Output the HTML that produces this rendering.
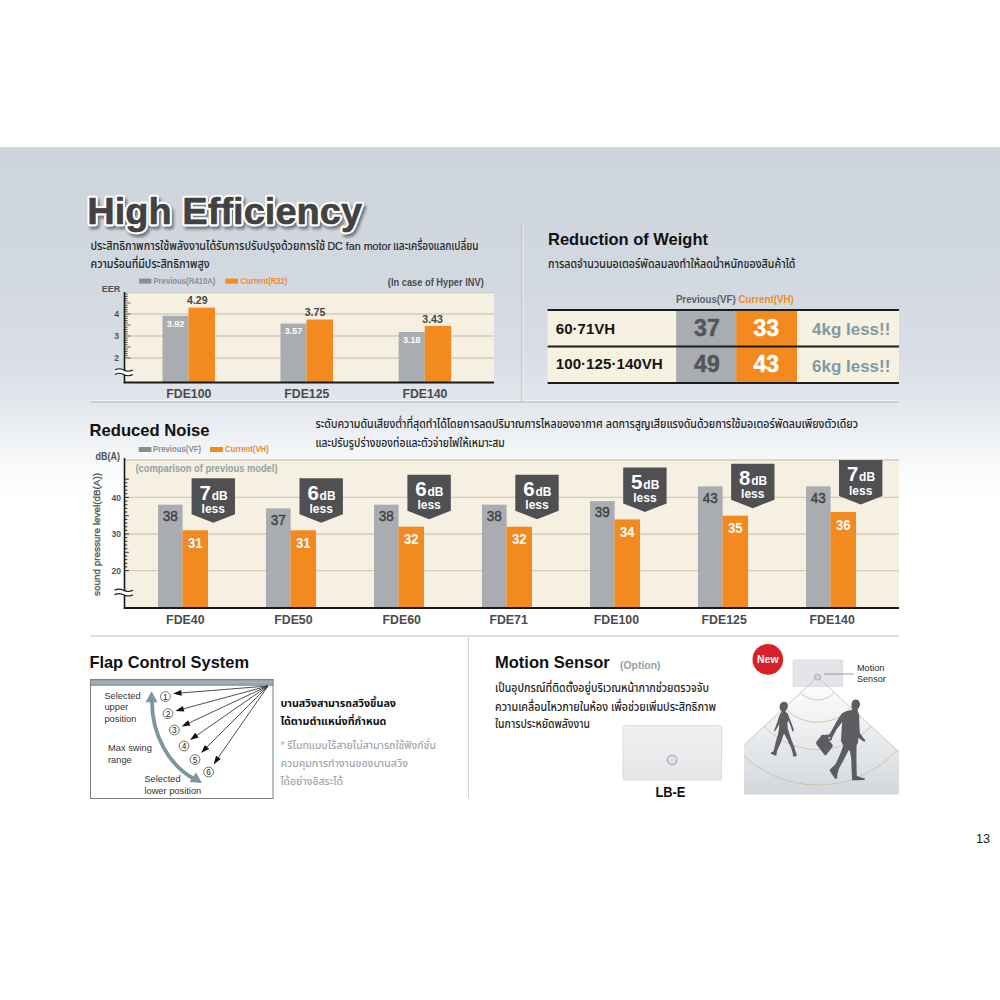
<!DOCTYPE html>
<html lang="th">
<head>
<meta charset="utf-8">
<title>High Efficiency</title>
<style>
html,body{margin:0;padding:0;background:#fff;}
body{width:1000px;height:1000px;overflow:hidden;position:relative;}
svg{display:block;position:absolute;left:0;top:0;}
text{font-family:"Liberation Sans","Noto Sans Thai",sans-serif;}
.b{font-weight:700;}
.th{font-family:"Liberation Sans","Noto Sans Thai",sans-serif;}
</style>
</head>
<body>
<svg width="1000" height="1000" viewBox="0 0 1000 1000">
<defs>
  <linearGradient id="bgg" x1="0" y1="0" x2="0" y2="1">
    <stop offset="0" stop-color="#cdd4dc"/>
    <stop offset="0.35" stop-color="#d2d8e0"/>
    <stop offset="0.6" stop-color="#d9dee6"/>
    <stop offset="0.75" stop-color="#e5e9ee"/>
    <stop offset="0.87" stop-color="#f4f6f8"/>
    <stop offset="0.95" stop-color="#fcfdfd"/>
    <stop offset="1" stop-color="#ffffff"/>
  </linearGradient>
  <filter id="tsh" x="-5%" y="-20%" width="115%" height="150%">
    <feGaussianBlur in="SourceAlpha" stdDeviation="1.6"/>
    <feOffset dx="2" dy="2.5" result="o"/>
    <feComponentTransfer><feFuncA type="linear" slope="0.45"/></feComponentTransfer>
    <feMerge><feMergeNode/><feMergeNode in="SourceGraphic"/></feMerge>
  </filter>
</defs>

<!-- background band -->
<rect x="0" y="147" width="1000" height="353" fill="url(#bgg)"/>

<!-- ===== HIGH EFFICIENCY ===== -->
<g id="he">
  <text x="87.2" y="224.3" font-size="36.8" class="b" fill="#fff" stroke="#fff" stroke-width="4.6" stroke-linejoin="round" filter="url(#tsh)" textLength="275" lengthAdjust="spacingAndGlyphs">High Efficiency</text>
  <text x="87.2" y="224.3" font-size="36.8" class="b" fill="#424143" stroke="#424143" stroke-width="0.6" stroke-linejoin="round" textLength="275" lengthAdjust="spacingAndGlyphs">High Efficiency</text>
  <text x="90.5" y="249.6" font-size="12.2" font-weight="500" fill="#1e1e1e" textLength="234.5" lengthAdjust="spacingAndGlyphs">ประสิทธิภาพการใช้พลังงานได้รับการปรับปรุงด้วยการใช้</text>
  <text x="327.4" y="249.6" font-size="10.6" fill="#1e1e1e" stroke="#1e1e1e" stroke-width="0.15" textLength="63.6" lengthAdjust="spacingAndGlyphs">DC fan motor</text>
  <text x="393" y="249.6" font-size="12.2" font-weight="500" fill="#1e1e1e" textLength="85.6" lengthAdjust="spacingAndGlyphs">และเครื่องแลกเปลี่ยน</text>
  <text x="90.5" y="268.0" font-size="12.2" font-weight="500" fill="#1e1e1e" textLength="119" lengthAdjust="spacingAndGlyphs">ความร้อนที่มีประสิทธิภาพสูง</text>

  <!-- legend -->
  <rect x="139" y="278.6" width="12.4" height="5" fill="#8c8d8f"/>
  <text x="153.4" y="283.9" font-size="8.3" class="b" fill="#8c8d8f" textLength="62" lengthAdjust="spacingAndGlyphs">Previous(R410A)</text>
  <rect x="225.4" y="278.6" width="12.6" height="5" fill="#f28a20"/>
  <text x="240.4" y="283.9" font-size="8.3" class="b" fill="#f28a20" textLength="47" lengthAdjust="spacingAndGlyphs">Current(R32)</text>
  <text x="387.8" y="285.6" font-size="10" class="b" fill="#4a4d52" textLength="96" lengthAdjust="spacingAndGlyphs">(In case of Hyper INV)</text>
  <text x="101.8" y="292" font-size="9.5" class="b" fill="#505255" textLength="18.5" lengthAdjust="spacingAndGlyphs">EER</text>

  <!-- chart area -->
  <rect x="125" y="292" width="369" height="90.5" fill="#f5f0e1"/>
  <line x1="125" y1="292.6" x2="494" y2="292.6" stroke="#cfcdc4" stroke-width="1.2"/>
  <g stroke="#d3ccb6" stroke-width="1.3">
    <line x1="125" y1="314" x2="494" y2="314"/>
    <line x1="125" y1="336" x2="494" y2="336"/>
    <line x1="125" y1="358" x2="494" y2="358"/>
  </g>
  <!-- bars -->
  <g>
    <rect x="162.5" y="315.8" width="26" height="66.7" fill="#a9acb0"/>
    <rect x="188.5" y="307.6" width="26.5" height="74.9" fill="#f28a20"/>
    <rect x="280.5" y="323.5" width="26" height="59" fill="#a9acb0"/>
    <rect x="306.5" y="319.5" width="26.5" height="63" fill="#f28a20"/>
    <rect x="398.7" y="332" width="26" height="50.5" fill="#a9acb0"/>
    <rect x="424.7" y="326" width="26.5" height="56.5" fill="#f28a20"/>
  </g>
  <g font-size="9" class="b" fill="#fff" text-anchor="middle">
    <text x="175.5" y="327">3.92</text>
    <text x="293.5" y="334.2">3.57</text>
    <text x="411.7" y="343.2">3.18</text>
  </g>
  <g font-size="10.6" class="b" fill="#444548" text-anchor="middle">
    <text x="197.3" y="303.6" textLength="20.6" lengthAdjust="spacingAndGlyphs">4.29</text>
    <text x="315" y="316.4" textLength="20.6" lengthAdjust="spacingAndGlyphs">3.75</text>
    <text x="432.6" y="322.8" textLength="20.6" lengthAdjust="spacingAndGlyphs">3.43</text>
  </g>
  <!-- axes -->
  <line x1="124.5" y1="292" x2="124.5" y2="383.2" stroke="#1a1a1a" stroke-width="1.6"/>
  <line x1="123.7" y1="382.5" x2="494" y2="382.5" stroke="#1a1a1a" stroke-width="1.8"/>
  <g stroke="#1a1a1a" stroke-width="0.9" id="ticks1"><line x1="125" y1="358.0" x2="130.6" y2="358.0" stroke="#7d7762" stroke-width="1.1"/><line x1="125" y1="355.8" x2="127.6" y2="355.8" stroke-width="0.8"/><line x1="125" y1="353.6" x2="127.6" y2="353.6" stroke-width="0.8"/><line x1="125" y1="351.4" x2="127.6" y2="351.4" stroke-width="0.8"/><line x1="125" y1="349.2" x2="127.6" y2="349.2" stroke-width="0.8"/><line x1="125" y1="347.0" x2="130.6" y2="347.0" stroke="#7d7762" stroke-width="1.1"/><line x1="125" y1="344.8" x2="127.6" y2="344.8" stroke-width="0.8"/><line x1="125" y1="342.6" x2="127.6" y2="342.6" stroke-width="0.8"/><line x1="125" y1="340.4" x2="127.6" y2="340.4" stroke-width="0.8"/><line x1="125" y1="338.2" x2="127.6" y2="338.2" stroke-width="0.8"/><line x1="125" y1="336.0" x2="130.6" y2="336.0" stroke="#7d7762" stroke-width="1.1"/><line x1="125" y1="333.8" x2="127.6" y2="333.8" stroke-width="0.8"/><line x1="125" y1="331.6" x2="127.6" y2="331.6" stroke-width="0.8"/><line x1="125" y1="329.4" x2="127.6" y2="329.4" stroke-width="0.8"/><line x1="125" y1="327.2" x2="127.6" y2="327.2" stroke-width="0.8"/><line x1="125" y1="325.0" x2="130.6" y2="325.0" stroke="#7d7762" stroke-width="1.1"/><line x1="125" y1="322.8" x2="127.6" y2="322.8" stroke-width="0.8"/><line x1="125" y1="320.6" x2="127.6" y2="320.6" stroke-width="0.8"/><line x1="125" y1="318.4" x2="127.6" y2="318.4" stroke-width="0.8"/><line x1="125" y1="316.2" x2="127.6" y2="316.2" stroke-width="0.8"/><line x1="125" y1="314.0" x2="130.6" y2="314.0" stroke="#7d7762" stroke-width="1.1"/><line x1="125" y1="311.8" x2="127.6" y2="311.8" stroke-width="0.8"/><line x1="125" y1="309.6" x2="127.6" y2="309.6" stroke-width="0.8"/><line x1="125" y1="307.4" x2="127.6" y2="307.4" stroke-width="0.8"/><line x1="125" y1="305.2" x2="127.6" y2="305.2" stroke-width="0.8"/><line x1="125" y1="303.0" x2="130.6" y2="303.0" stroke="#7d7762" stroke-width="1.1"/><line x1="125" y1="300.8" x2="127.6" y2="300.8" stroke-width="0.8"/><line x1="125" y1="298.6" x2="127.6" y2="298.6" stroke-width="0.8"/><line x1="125" y1="296.4" x2="127.6" y2="296.4" stroke-width="0.8"/><line x1="125" y1="294.2" x2="127.6" y2="294.2" stroke-width="0.8"/></g>
  <!-- break -->
  <path d="M115 372.2 q4 -2.4 8.5 0 t9.5 0" fill="none" stroke="#fff" stroke-width="4"/>
  <path d="M115 370 q4 -2.4 8.5 0 t9.5 0 M115 374.5 q4 -2.4 8.5 0 t9.5 0" fill="none" stroke="#1a1a1a" stroke-width="1.1"/>
  <g font-size="8.6" class="b" fill="#4f5154" text-anchor="end">
    <text x="119" y="317">4</text>
    <text x="119" y="339">3</text>
    <text x="119" y="361">2</text>
  </g>
  <g font-size="13" class="b" fill="#4a4b4e" text-anchor="middle">
    <text x="188.8" y="398.3" textLength="45" lengthAdjust="spacingAndGlyphs">FDE100</text>
    <text x="306.8" y="398.3" textLength="45" lengthAdjust="spacingAndGlyphs">FDE125</text>
    <text x="424.9" y="398.3" textLength="45" lengthAdjust="spacingAndGlyphs">FDE140</text>
  </g>
</g>

<!-- separators -->
<line x1="522.9" y1="224" x2="522.9" y2="401" stroke="#f4f6f9" stroke-width="1" opacity="0.8"/>
<line x1="90" y1="400.6" x2="898" y2="400.6" stroke="#f4f6f9" stroke-width="1" opacity="0.8"/>
<line x1="521.7" y1="224" x2="521.7" y2="402" stroke="#bfc5cc" stroke-width="1.1"/>
<line x1="90" y1="402" x2="898" y2="402" stroke="#c2c7cd" stroke-width="1.3"/>

<!-- ===== REDUCTION OF WEIGHT ===== -->
<g id="rw">
  <text x="548" y="245" font-size="16.5" class="b" fill="#111" textLength="160" lengthAdjust="spacingAndGlyphs">Reduction of Weight</text>
  <text x="548" y="268.0" font-size="11.6" font-weight="500" fill="#1e1e1e" textLength="247.5" lengthAdjust="spacingAndGlyphs">การลดจำนวนมอเตอร์พัดลมลงทำให้ลดน้ำหนักของสินค้าได้</text>
  <text x="675.9" y="303.4" font-size="11" class="b" fill="#5d6166" textLength="59.8" lengthAdjust="spacingAndGlyphs">Previous(VF)</text>
  <text x="738.5" y="303.4" font-size="11" class="b" fill="#f08a28" textLength="55.3" lengthAdjust="spacingAndGlyphs">Current(VH)</text>
  <rect x="547.6" y="310" width="351.4" height="73" fill="#f6f1e0"/>
  <rect x="676.2" y="310" width="60" height="73" fill="#a9acb0"/>
  <rect x="736.2" y="310" width="60.8" height="73" fill="#f28a20"/>
  <g stroke="#1c1c1c" stroke-width="2.2">
    <line x1="547.6" y1="310" x2="899" y2="310"/>
    <line x1="547.6" y1="346.5" x2="899" y2="346.5"/>
    <line x1="547.6" y1="383" x2="899" y2="383"/>
  </g>
  <g font-size="14.5" class="b" fill="#151515">
    <text x="555.8" y="334.1" textLength="59.4" lengthAdjust="spacingAndGlyphs">60·71VH</text>
    <text x="555.8" y="369.2" textLength="107" lengthAdjust="spacingAndGlyphs">100·125·140VH</text>
  </g>
  <g font-size="23" class="b" text-anchor="middle">
    <text x="706.9" y="336" fill="#545558" stroke="#545558" stroke-width="0.5">37</text>
    <text x="706.9" y="372.2" fill="#545558" stroke="#545558" stroke-width="0.5">49</text>
    <text x="766.3" y="336" fill="#fff" stroke="#fff" stroke-width="0.4">33</text>
    <text x="766.3" y="372.2" fill="#fff" stroke="#fff" stroke-width="0.4">43</text>
  </g>
  <g font-size="17" class="b" fill="#7f9aa6">
    <text x="812.1" y="334.9" textLength="78.2" lengthAdjust="spacingAndGlyphs">4kg less!!</text>
    <text x="812.1" y="371.7" textLength="78.2" lengthAdjust="spacingAndGlyphs">6kg less!!</text>
  </g>
</g>

<!-- ===== REDUCED NOISE ===== -->
<g id="rn">
  <text x="89.5" y="435.8" font-size="16.5" class="b" fill="#111" textLength="120" lengthAdjust="spacingAndGlyphs">Reduced Noise</text>
  <text x="315.4" y="428.0" font-size="12.2" font-weight="500" fill="#1e1e1e" textLength="542.6" lengthAdjust="spacingAndGlyphs">ระดับความดันเสียงต่ำที่สุดทำได้โดยการลดปริมาณการไหลของอากาศ ลดการสูญเสียแรงดันด้วยการใช้มอเตอร์พัดลมเพียงตัวเดียว</text>
  <text x="315.4" y="446.5" font-size="12.2" font-weight="500" fill="#1e1e1e" textLength="189.4" lengthAdjust="spacingAndGlyphs">และปรับรูปร่างของท่อและตัวจ่ายไฟให้เหมาะสม</text>
  <rect x="138.8" y="447" width="12.6" height="5" fill="#8c8d8f"/>
  <text x="153" y="451.9" font-size="8.6" class="b" fill="#8c8d8f" textLength="48" lengthAdjust="spacingAndGlyphs">Previous(VF)</text>
  <rect x="210" y="447" width="13" height="5" fill="#f28a20"/>
  <text x="225" y="451.9" font-size="8.6" class="b" fill="#f28a20" textLength="43.7" lengthAdjust="spacingAndGlyphs">Current(VH)</text>
  <text x="95.6" y="460.3" font-size="10" class="b" fill="#505255" textLength="24.4" lengthAdjust="spacingAndGlyphs">dB(A)</text>

  <rect x="125" y="459.5" width="774" height="148.5" fill="#f5f0e1"/>
  <g stroke="#d3ccb6" stroke-width="1.3">
    <line x1="125" y1="460" x2="899" y2="460"/>
    <line x1="125" y1="497.4" x2="899" y2="497.4"/>
    <line x1="125" y1="534" x2="899" y2="534"/>
    <line x1="125" y1="570.6" x2="899" y2="570.6"/>
  </g>
  <text x="135.5" y="471.5" font-size="10" class="b" fill="#8fa3a7" textLength="142" lengthAdjust="spacingAndGlyphs">(comparison of previous model)</text>
  <g id="nbars"><rect x="158" y="504.7" width="24.6" height="103.3" fill="#a9acb0"/>
<rect x="182.5" y="530.3" width="25.5" height="77.7" fill="#f28a20"/>
<text x="170.3" y="521.0" font-size="14" fill="#434447" stroke="#434447" stroke-width="0.45" text-anchor="middle" textLength="15" lengthAdjust="spacingAndGlyphs">38</text>
<text x="195.3" y="547.8" font-size="14" class="b" fill="#fff" text-anchor="middle" textLength="14.5" lengthAdjust="spacingAndGlyphs">31</text>
<path d="M191.6 478.3H235.0V514.3L213.3 522.8L191.6 514.3Z" fill="#505052"/>
<text x="199.5" y="499.6" font-size="20.5" class="b" fill="#fff">7<tspan font-size="12" dx="0.8">dB</tspan></text>
<text x="213.3" y="513.0" font-size="12" class="b" fill="#fff" text-anchor="middle">less</text>
<text x="185.3" y="624.1" font-size="13" class="b" fill="#4a4b4e" text-anchor="middle" textLength="38.4" lengthAdjust="spacingAndGlyphs">FDE40</text>
<rect x="266" y="508.4" width="24.6" height="99.6" fill="#a9acb0"/>
<rect x="290.5" y="530.3" width="25.5" height="77.7" fill="#f28a20"/>
<text x="278.3" y="524.7" font-size="14" fill="#434447" stroke="#434447" stroke-width="0.45" text-anchor="middle" textLength="15" lengthAdjust="spacingAndGlyphs">37</text>
<text x="303.3" y="547.8" font-size="14" class="b" fill="#fff" text-anchor="middle" textLength="14.5" lengthAdjust="spacingAndGlyphs">31</text>
<path d="M299.5 478.3H342.9V514.3L321.2 522.8L299.5 514.3Z" fill="#505052"/>
<text x="307.4" y="499.6" font-size="20.5" class="b" fill="#fff">6<tspan font-size="12" dx="0.8">dB</tspan></text>
<text x="321.2" y="513.0" font-size="12" class="b" fill="#fff" text-anchor="middle">less</text>
<text x="293.4" y="624.1" font-size="13" class="b" fill="#4a4b4e" text-anchor="middle" textLength="38.4" lengthAdjust="spacingAndGlyphs">FDE50</text>
<rect x="374" y="504.7" width="24.6" height="103.3" fill="#a9acb0"/>
<rect x="398.5" y="526.7" width="25.5" height="81.3" fill="#f28a20"/>
<text x="386.3" y="521.0" font-size="14" fill="#434447" stroke="#434447" stroke-width="0.45" text-anchor="middle" textLength="15" lengthAdjust="spacingAndGlyphs">38</text>
<text x="411.3" y="544.2" font-size="14" class="b" fill="#fff" text-anchor="middle" textLength="14.5" lengthAdjust="spacingAndGlyphs">32</text>
<path d="M407.4 474.7H450.8V510.7L429.1 519.2L407.4 510.7Z" fill="#505052"/>
<text x="415.3" y="496.0" font-size="20.5" class="b" fill="#fff">6<tspan font-size="12" dx="0.8">dB</tspan></text>
<text x="429.1" y="509.4" font-size="12" class="b" fill="#fff" text-anchor="middle">less</text>
<text x="401.7" y="624.1" font-size="13" class="b" fill="#4a4b4e" text-anchor="middle" textLength="38.4" lengthAdjust="spacingAndGlyphs">FDE60</text>
<rect x="482" y="504.7" width="24.6" height="103.3" fill="#a9acb0"/>
<rect x="506.5" y="526.7" width="25.5" height="81.3" fill="#f28a20"/>
<text x="494.3" y="521.0" font-size="14" fill="#434447" stroke="#434447" stroke-width="0.45" text-anchor="middle" textLength="15" lengthAdjust="spacingAndGlyphs">38</text>
<text x="519.3" y="544.2" font-size="14" class="b" fill="#fff" text-anchor="middle" textLength="14.5" lengthAdjust="spacingAndGlyphs">32</text>
<path d="M515.3 474.7H558.7V510.7L537.0 519.2L515.3 510.7Z" fill="#505052"/>
<text x="523.2" y="496.0" font-size="20.5" class="b" fill="#fff">6<tspan font-size="12" dx="0.8">dB</tspan></text>
<text x="537.0" y="509.4" font-size="12" class="b" fill="#fff" text-anchor="middle">less</text>
<text x="508.6" y="624.1" font-size="13" class="b" fill="#4a4b4e" text-anchor="middle" textLength="38.4" lengthAdjust="spacingAndGlyphs">FDE71</text>
<rect x="590" y="501.1" width="24.6" height="106.9" fill="#a9acb0"/>
<rect x="614.5" y="519.4" width="25.5" height="88.6" fill="#f28a20"/>
<text x="602.3" y="517.4" font-size="14" fill="#434447" stroke="#434447" stroke-width="0.45" text-anchor="middle" textLength="15" lengthAdjust="spacingAndGlyphs">39</text>
<text x="627.3" y="536.9" font-size="14" class="b" fill="#fff" text-anchor="middle" textLength="14.5" lengthAdjust="spacingAndGlyphs">34</text>
<path d="M623.2 467.4H666.6V503.4L644.9 511.9L623.2 503.4Z" fill="#505052"/>
<text x="631.1" y="488.7" font-size="20.5" class="b" fill="#fff">5<tspan font-size="12" dx="0.8">dB</tspan></text>
<text x="644.9" y="502.1" font-size="12" class="b" fill="#fff" text-anchor="middle">less</text>
<text x="616.4" y="624.1" font-size="13" class="b" fill="#4a4b4e" text-anchor="middle" textLength="45.2" lengthAdjust="spacingAndGlyphs">FDE100</text>
<rect x="698" y="486.4" width="24.6" height="121.6" fill="#a9acb0"/>
<rect x="722.5" y="515.7" width="25.5" height="92.3" fill="#f28a20"/>
<text x="710.3" y="502.7" font-size="14" fill="#434447" stroke="#434447" stroke-width="0.45" text-anchor="middle" textLength="15" lengthAdjust="spacingAndGlyphs">43</text>
<text x="735.3" y="533.2" font-size="14" class="b" fill="#fff" text-anchor="middle" textLength="14.5" lengthAdjust="spacingAndGlyphs">35</text>
<path d="M731.1 463.7H774.5V499.7L752.8 508.2L731.1 499.7Z" fill="#505052"/>
<text x="739.0" y="485.0" font-size="20.5" class="b" fill="#fff">8<tspan font-size="12" dx="0.8">dB</tspan></text>
<text x="752.8" y="498.4" font-size="12" class="b" fill="#fff" text-anchor="middle">less</text>
<text x="724.2" y="624.1" font-size="13" class="b" fill="#4a4b4e" text-anchor="middle" textLength="45.2" lengthAdjust="spacingAndGlyphs">FDE125</text>
<rect x="806" y="486.4" width="24.6" height="121.6" fill="#a9acb0"/>
<rect x="830.5" y="512.0" width="25.5" height="96.0" fill="#f28a20"/>
<text x="818.3" y="502.7" font-size="14" fill="#434447" stroke="#434447" stroke-width="0.45" text-anchor="middle" textLength="15" lengthAdjust="spacingAndGlyphs">43</text>
<text x="843.3" y="529.5" font-size="14" class="b" fill="#fff" text-anchor="middle" textLength="14.5" lengthAdjust="spacingAndGlyphs">36</text>
<path d="M839.0 460.0H882.4V496.0L860.7 504.5L839.0 496.0Z" fill="#505052"/>
<text x="846.9" y="481.3" font-size="20.5" class="b" fill="#fff">7<tspan font-size="12" dx="0.8">dB</tspan></text>
<text x="860.7" y="494.7" font-size="12" class="b" fill="#fff" text-anchor="middle">less</text>
<text x="832.2" y="624.1" font-size="13" class="b" fill="#4a4b4e" text-anchor="middle" textLength="45.2" lengthAdjust="spacingAndGlyphs">FDE140</text></g>
  <line x1="124.5" y1="458" x2="124.5" y2="608.8" stroke="#1a1a1a" stroke-width="1.6"/>
  <line x1="123.7" y1="608" x2="899" y2="608" stroke="#1a1a1a" stroke-width="1.8"/>
  <g stroke="#1a1a1a" stroke-width="0.9" id="ticks2"><line x1="125" y1="570.6" x2="128.8" y2="570.6"/><line x1="125" y1="566.9" x2="127.4" y2="566.9"/><line x1="125" y1="563.3" x2="127.4" y2="563.3"/><line x1="125" y1="559.6" x2="127.4" y2="559.6"/><line x1="125" y1="556.0" x2="127.4" y2="556.0"/><line x1="125" y1="552.3" x2="128.8" y2="552.3"/><line x1="125" y1="548.6" x2="127.4" y2="548.6"/><line x1="125" y1="545.0" x2="127.4" y2="545.0"/><line x1="125" y1="541.3" x2="127.4" y2="541.3"/><line x1="125" y1="537.7" x2="127.4" y2="537.7"/><line x1="125" y1="534.0" x2="128.8" y2="534.0"/><line x1="125" y1="530.3" x2="127.4" y2="530.3"/><line x1="125" y1="526.7" x2="127.4" y2="526.7"/><line x1="125" y1="523.0" x2="127.4" y2="523.0"/><line x1="125" y1="519.4" x2="127.4" y2="519.4"/><line x1="125" y1="515.7" x2="128.8" y2="515.7"/><line x1="125" y1="512.0" x2="127.4" y2="512.0"/><line x1="125" y1="508.4" x2="127.4" y2="508.4"/><line x1="125" y1="504.7" x2="127.4" y2="504.7"/><line x1="125" y1="501.1" x2="127.4" y2="501.1"/><line x1="125" y1="497.4" x2="128.8" y2="497.4"/><line x1="125" y1="493.7" x2="127.4" y2="493.7"/><line x1="125" y1="490.1" x2="127.4" y2="490.1"/><line x1="125" y1="486.4" x2="127.4" y2="486.4"/><line x1="125" y1="482.8" x2="127.4" y2="482.8"/><line x1="125" y1="479.1" x2="128.8" y2="479.1"/></g>
  <path d="M114.5 592.5 q4.2 -2.4 8.8 0 t9.8 0" fill="none" stroke="#fff" stroke-width="4"/>
  <path d="M114.5 590.3 q4.2 -2.4 8.8 0 t9.8 0 M114.5 594.8 q4.2 -2.4 8.8 0 t9.8 0" fill="none" stroke="#1a1a1a" stroke-width="1.1"/>
  <g font-size="8.6" class="b" fill="#4f5154" text-anchor="end">
    <text x="121" y="500.5">40</text>
    <text x="121" y="537.1">30</text>
    <text x="121" y="573.7">20</text>
  </g>
  <text transform="translate(100.2,596) rotate(-90)" font-size="9.6" fill="#505255" stroke="#505255" stroke-width="0.3" textLength="123" lengthAdjust="spacingAndGlyphs">sound pressure level(dB(A))</text>
</g>

<!-- separator 2 -->
<line x1="90" y1="636" x2="899" y2="636" stroke="#d3d5d7" stroke-width="1.4"/>
<line x1="468.4" y1="637" x2="468.4" y2="798" stroke="#cfd1d3" stroke-width="1.1"/>

<!-- ===== FLAP CONTROL ===== -->
<g id="fc">
  <text x="89.4" y="668" font-size="16.5" class="b" fill="#111" textLength="159.6" lengthAdjust="spacingAndGlyphs">Flap Control System</text>
  <defs><linearGradient id="barg" x1="0" y1="0" x2="0" y2="1"><stop offset="0" stop-color="#7f9097"/><stop offset="0.45" stop-color="#a6b5bb"/><stop offset="1" stop-color="#8a9ba2"/></linearGradient></defs>
  <rect x="90.5" y="679.5" width="182.5" height="119" fill="#fff" stroke="#7b7e82" stroke-width="1"/>
  <rect x="90.5" y="679.3" width="182.5" height="6" fill="url(#barg)" stroke="#6f7f86" stroke-width="0.6"/>
  <g id="flaparrows"><line x1="268" y1="686" x2="181.5" y2="692.9" stroke="#222" stroke-width="0.8"/>
<path d="M173.0 693.6L181.2 690.0L181.7 695.8Z" fill="#111"/>
<line x1="268" y1="686" x2="183.6" y2="708.8" stroke="#222" stroke-width="0.8"/>
<path d="M175.4 711.0L182.9 706.0L184.4 711.6Z" fill="#111"/>
<line x1="268" y1="686" x2="189.3" y2="722.8" stroke="#222" stroke-width="0.8"/>
<path d="M181.6 726.4L188.1 720.2L190.5 725.4Z" fill="#111"/>
<line x1="268" y1="686" x2="197.0" y2="735.2" stroke="#222" stroke-width="0.8"/>
<path d="M190.0 740.0L195.3 732.8L198.6 737.5Z" fill="#111"/>
<line x1="268" y1="686" x2="207.0" y2="747.0" stroke="#222" stroke-width="0.8"/>
<path d="M201.0 753.0L205.0 744.9L209.1 749.0Z" fill="#111"/>
<line x1="268" y1="686" x2="218.4" y2="757.4" stroke="#222" stroke-width="0.8"/>
<path d="M213.6 764.4L216.1 755.8L220.8 759.1Z" fill="#111"/>
<circle cx="165.4" cy="696.6" r="4.9" fill="none" stroke="#333" stroke-width="0.7"/>
<text x="165.4" y="699.6" font-size="8.4" fill="#222" text-anchor="middle">1</text>
<circle cx="168" cy="713.6" r="4.9" fill="none" stroke="#333" stroke-width="0.7"/>
<text x="168" y="716.6" font-size="8.4" fill="#222" text-anchor="middle">2</text>
<circle cx="174.4" cy="730" r="4.9" fill="none" stroke="#333" stroke-width="0.7"/>
<text x="174.4" y="733.0" font-size="8.4" fill="#222" text-anchor="middle">3</text>
<circle cx="184" cy="746" r="4.9" fill="none" stroke="#333" stroke-width="0.7"/>
<text x="184" y="749.0" font-size="8.4" fill="#222" text-anchor="middle">4</text>
<circle cx="195" cy="759.6" r="4.9" fill="none" stroke="#333" stroke-width="0.7"/>
<text x="195" y="762.6" font-size="8.4" fill="#222" text-anchor="middle">5</text>
<circle cx="208.6" cy="772" r="4.9" fill="none" stroke="#333" stroke-width="0.7"/>
<text x="208.6" y="775.0" font-size="8.4" fill="#222" text-anchor="middle">6</text>
<path d="M152 700 C 151.5 735, 169 765, 194 779" fill="none" stroke="#7d97a1" stroke-width="3.8"/>
<path d="M151.6 691.2 L145.6 702.3 L157.6 702.3 Z" fill="#7d97a1"/>
<path d="M202 783 L189.5 782 L196 772.5 Z" fill="#7d97a1"/></g>
  <g font-size="9.3" fill="#333">
    <text x="104.4" y="699">Selected</text>
    <text x="104.4" y="710.3">upper</text>
    <text x="104.4" y="721.5">position</text>
    <text x="108" y="751.4">Max swing</text>
    <text x="108" y="762.8">range</text>
    <text x="144.4" y="782.3">Selected</text>
    <text x="144.4" y="793.5">lower position</text>
  </g>
  <text x="280.4" y="707.3" font-size="10.8" class="b" fill="#111" textLength="115.6" lengthAdjust="spacingAndGlyphs">บานสวิงสามารถสวิงขึ้นลง</text>
  <text x="280.4" y="725.4" font-size="10.8" class="b" fill="#111" textLength="106" lengthAdjust="spacingAndGlyphs">ได้ตามตำแหน่งที่กำหนด</text>
  <text x="280.4" y="748.7" font-size="10.8" font-weight="500" fill="#a3a5a8" textLength="155.6" lengthAdjust="spacingAndGlyphs">* รีโมทแบบไร้สายไม่สามารถใช้ฟังก์ชั่น</text>
  <text x="280.4" y="767.2" font-size="10.8" font-weight="500" fill="#a3a5a8" textLength="127.6" lengthAdjust="spacingAndGlyphs">ควบคุมการทำงานของบานสวิง</text>
  <text x="280.4" y="784.7" font-size="10.8" font-weight="500" fill="#a3a5a8" textLength="62.6" lengthAdjust="spacingAndGlyphs">ได้อย่างอิสระได้</text>
</g>

<!-- ===== MOTION SENSOR ===== -->
<g id="ms">
  <text x="495" y="667.8" font-size="16.5" class="b" fill="#111" textLength="114.8" lengthAdjust="spacingAndGlyphs">Motion Sensor</text>
  <text x="620" y="668.8" font-size="11.5" class="b" fill="#8fa3aa" textLength="40.5" lengthAdjust="spacingAndGlyphs">(Option)</text>
  <text x="495" y="692.0" font-size="12.0" font-weight="500" fill="#1e1e1e" textLength="214" lengthAdjust="spacingAndGlyphs">เป็นอุปกรณ์ที่ติดตั้งอยู่บริเวณหน้ากากช่วยตรวจจับ</text>
  <text x="495" y="710.8" font-size="12.0" font-weight="500" fill="#1e1e1e" textLength="221" lengthAdjust="spacingAndGlyphs">ความเคลื่อนไหวภายในห้อง เพื่อช่วยเพิ่มประสิทธิภาพ</text>
  <text x="495" y="728.4" font-size="12.0" font-weight="500" fill="#1e1e1e" textLength="95" lengthAdjust="spacingAndGlyphs">ในการประหยัดพลังงาน</text>
  <defs><linearGradient id="pang" x1="0" y1="0" x2="0" y2="1"><stop offset="0" stop-color="#eef0f1"/><stop offset="1" stop-color="#e4e6e8"/></linearGradient></defs>
  <rect x="623" y="725.6" width="98.6" height="54.4" rx="2.2" fill="url(#pang)" stroke="#d6d9dc" stroke-width="0.9"/>
  <circle cx="672.1" cy="760" r="6.6" fill="#f6f7f8"/>
  <circle cx="672.1" cy="760" r="5" fill="#dfe1e6" stroke="#b4b8be" stroke-width="1.6"/>
  <text x="655.4" y="797.3" font-size="14" class="b" fill="#111" textLength="30" lengthAdjust="spacingAndGlyphs">LB-E</text>
  <g id="illus"><defs><linearGradient id="flg" x1="0" y1="0" x2="0" y2="1"><stop offset="0" stop-color="#ffffff"/><stop offset="0.45" stop-color="#eceef1"/><stop offset="1" stop-color="#d3d7dc"/></linearGradient><clipPath id="conec"><path d="M817.6 677 L744 745 L744 794.5 L899 794.5 L899 752 Z"/></clipPath></defs>
<path d="M817.6 677 L744 745 L744 794.5 L899 794.5 L899 752 Z" fill="url(#flg)"/>
<g clip-path="url(#conec)"><circle cx="817.6" cy="677" r="23" fill="none" stroke="#c9c3a3" stroke-width="0.9"/><circle cx="817.6" cy="677" r="45.4" fill="none" stroke="#c9c3a3" stroke-width="0.9"/><circle cx="817.6" cy="677" r="72.6" fill="none" stroke="#c9c3a3" stroke-width="0.9"/><circle cx="817.6" cy="677" r="108" fill="none" stroke="#c9c3a3" stroke-width="0.9"/></g>
<rect x="793" y="660" width="49.6" height="26.4" rx="1" fill="#e3e5e8" stroke="#d5d8dc" stroke-width="0.8"/>
<path d="M744 745 L817.6 677 L899 752" fill="none" stroke="#cbc5a6" stroke-width="0.9"/>
<circle cx="817.6" cy="677" r="3" fill="#d3d6da" stroke="#9fa3a8" stroke-width="0.9"/>
<line x1="824" y1="674" x2="853.8" y2="674" stroke="#8a8d90" stroke-width="0.9"/>
<text x="857" y="671.2" font-size="9.1" fill="#2a2a2a">Motion</text>
<text x="857" y="682" font-size="9.1" fill="#2a2a2a">Sensor</text>
<circle cx="767.8" cy="659.4" r="15.3" fill="#d9202a"/>
<text x="767.8" y="663.2" font-size="10.5" class="b" fill="#fff" text-anchor="middle">New</text>
<path fill="#5c5d60" d="M783.6 701.8C786.4 701.6 788 703.6 787.8 706.2L787.4 708.6C786.8 709.8 786 710.2 785.6 710.6L785.8 712.2C787.4 712.6 788.2 713.6 788.4 715.6L791 722L793.8 729.6L793.6 731.4L792.4 731.2L790.2 725L788.2 720.4L787.4 723L787.8 728.6L790.6 737.6L794.2 746.8L795.6 751.6L796.8 754.6L796 756.4L793 756.6L792.8 753.4L791 747.4L787.6 740.2L784 733.6L780.8 742.4L777.2 750.6L776.6 753.6L776.4 755.6L774.6 755.4L770.8 753.6L770.8 752.6L773.6 751.2L775.6 742.4L778.2 733.6L779 728.4L779.3 724L777.4 727.6L774.8 731.6L774 730.8L776.8 723.6L779 716.6L780.6 713L781.6 712.2L781.4 710.4C780.2 710.4 779.4 709 779.6 707C779.6 704 781.2 702 783.6 701.8Z"/>
<path fill="#5c5d60" d="M855.5 699.5C858.5 699.3 860.2 701.8 860 704.5C859.8 707 858.5 708.4 857.6 709L857.8 711.5L859.2 715L859.3 722L859.8 733L863 737.5L865.4 740.2L864.4 742L861 739.8L858.6 737.8L857.8 743.5L856.6 745L856.4 760L856.8 775.8L860.8 777.4L864.8 778.3L864.6 780L852.4 780.4L852 778.5L851.6 770L851.2 758L849.6 750L848.2 751L843.6 760L839 768.6L837.4 774.2L837.2 778.2L835.4 779L831.4 773.6L829.6 770L831 768.6L835.6 764L840.4 753.6L843.2 745.5L842.2 743.5L841 741L841.6 730L842.2 722L836.5 729.5L831.8 738.4L829.2 738.8L828.4 735.6L831.2 731.2L836.8 721L841.8 713.4L845.4 711.4L852.4 709.8L851.6 707.4C851 703 852.5 699.6 855.5 699.5Z"/>
<path fill="#5c5d60" d="M821.6 735.2Q822.8 734.2 824 734.9L832 744Q833.4 745.6 832.4 747L826.6 754.6Q825.5 755.8 824.3 754.7L816.6 744.4Q815.6 743 816.4 741.8Z"/>
<path fill="#5c5d60" d="M824 735L828 734.6L831 736.8L832 740L827.6 741.4Z"/>
<rect x="828.6" y="737.3" width="1.5" height="1.5" fill="#eef0f2"/></g>
</g>

<text x="976" y="842.5" font-size="12.6" fill="#222" textLength="14" lengthAdjust="spacingAndGlyphs">13</text>
</svg>
</body>
</html>
